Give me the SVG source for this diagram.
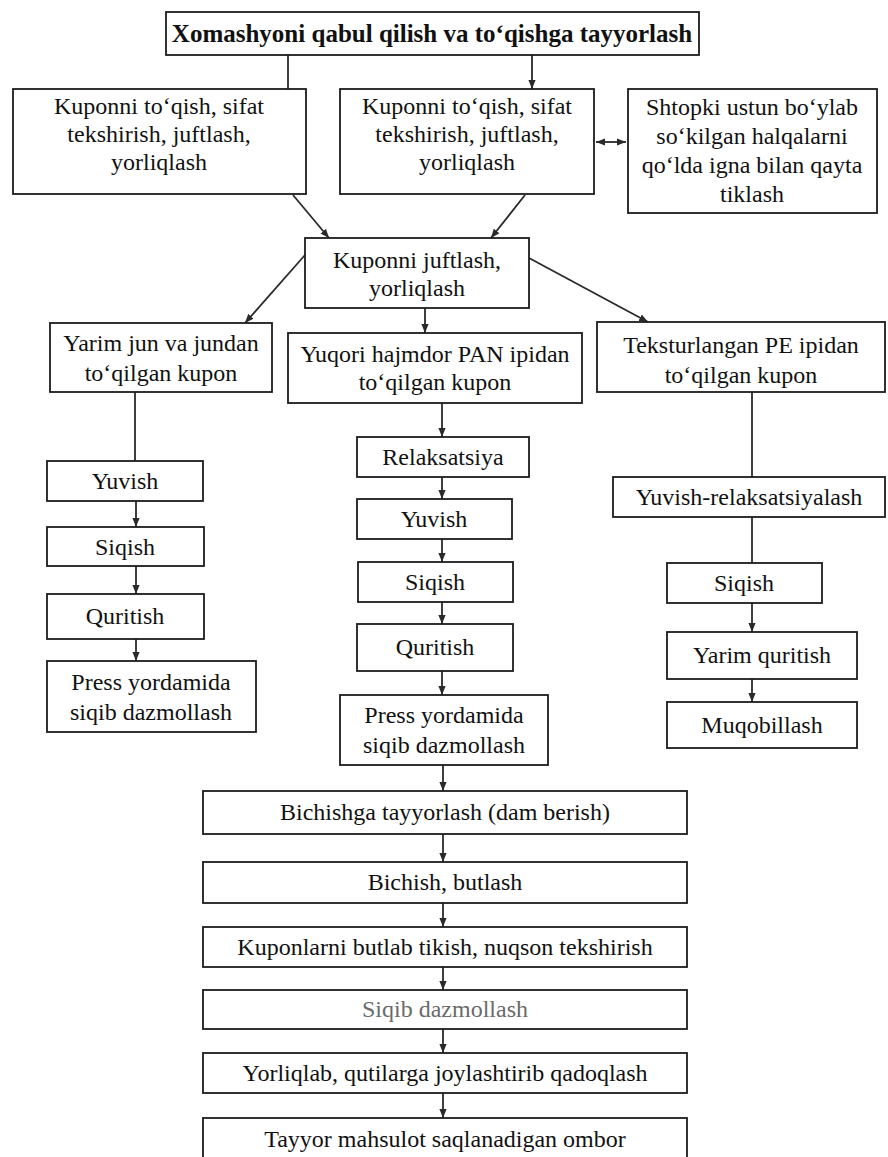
<svg xmlns="http://www.w3.org/2000/svg" width="888" height="1157" viewBox="0 0 888 1157">
  <defs>
    <style>
      .box { fill: #ffffff; stroke: #1c1c1c; stroke-width: 1.8; }
      .t { font-family: "Liberation Serif", "Times New Roman", serif; font-size: 24px; fill: #111111; text-anchor: middle; }
      .tb { font-family: "Liberation Serif", "Times New Roman", serif; font-size: 25px; font-weight: bold; fill: #111111; text-anchor: middle; }
      .grey { fill: #6a6a6a; }
      .ln { stroke: #2a2a2a; stroke-width: 1.8; fill: none; }
      .ar { stroke: #2a2a2a; stroke-width: 1.8; fill: none; marker-end: url(#head); }
      .ar2 { stroke: #2a2a2a; stroke-width: 1.8; fill: none; marker-end: url(#head); marker-start: url(#tail); }
    </style>
    <marker id="head" viewBox="0 0 10 8" refX="10" refY="4" markerWidth="9" markerHeight="8" markerUnits="userSpaceOnUse" orient="auto">
      <path d="M0,0 L10,4 L0,8 z" fill="#2a2a2a"/>
    </marker>
    <marker id="tail" viewBox="0 0 10 8" refX="0" refY="4" markerWidth="9" markerHeight="8" markerUnits="userSpaceOnUse" orient="auto">
      <path d="M10,0 L0,4 L10,8 z" fill="#2a2a2a"/>
    </marker>
  </defs>

  <rect width="888" height="1157" fill="#ffffff"/>

  <!-- connectors -->
  <g id="connectors">
    <line class="ln" x1="288" y1="55" x2="288" y2="90"/>
    <line class="ar" x1="532" y1="55" x2="532" y2="89"/>
    <line class="ar2" x1="596" y1="142" x2="626" y2="142"/>
    <line class="ar" x1="293" y1="195" x2="329" y2="238"/>
    <line class="ar" x1="525" y1="195" x2="491" y2="238"/>
    <line class="ar" x1="305" y1="255" x2="245" y2="323"/>
    <line class="ar" x1="529" y1="258" x2="648" y2="322"/>
    <line class="ar" x1="425" y1="308" x2="425" y2="333"/>

    <!-- left column -->
    <line class="ln" x1="135" y1="392" x2="135" y2="461"/>
    <line class="ar" x1="136" y1="501" x2="136" y2="527"/>
    <line class="ar" x1="136" y1="566" x2="136" y2="594"/>
    <line class="ar" x1="136" y1="639" x2="136" y2="661"/>

    <!-- middle column -->
    <line class="ar" x1="442" y1="403" x2="442" y2="437"/>
    <line class="ar" x1="442" y1="477" x2="442" y2="499"/>
    <line class="ar" x1="442" y1="539" x2="442" y2="562"/>
    <line class="ar" x1="442" y1="602" x2="442" y2="624"/>
    <line class="ar" x1="442" y1="671" x2="442" y2="695"/>

    <!-- right column -->
    <line class="ln" x1="752" y1="392" x2="752" y2="477"/>
    <line class="ln" x1="752" y1="517" x2="752" y2="563"/>
    <line class="ar" x1="752" y1="603" x2="752" y2="632"/>
    <line class="ar" x1="752" y1="679" x2="752" y2="702"/>

    <!-- common trunk -->
    <line class="ar" x1="443" y1="765" x2="443" y2="791"/>
    <line class="ar" x1="443" y1="834" x2="443" y2="862"/>
    <line class="ar" x1="443" y1="903" x2="443" y2="927"/>
    <line class="ar" x1="443" y1="967" x2="443" y2="990"/>
    <line class="ar" x1="443" y1="1029" x2="443" y2="1053"/>
    <line class="ar" x1="443" y1="1093" x2="443" y2="1118"/>
  </g>

  <g id="n-receive">
    <rect class="box" x="166" y="12" width="533" height="43"/>
    <text class="tb" x="432" y="42">Xomashyoni qabul qilish va to‘qishga tayyorlash</text>
  </g>

  <g id="n-knit-1">
    <rect class="box" x="13" y="89" width="293" height="105"/>
    <text class="t" x="159" y="114">Kuponni to‘qish, sifat</text>
    <text class="t" x="159" y="142">tekshirish, juftlash,</text>
    <text class="t" x="159" y="170">yorliqlash</text>
  </g>

  <g id="n-knit-2">
    <rect class="box" x="340" y="89" width="254" height="105"/>
    <text class="t" x="467" y="114">Kuponni to‘qish, sifat</text>
    <text class="t" x="467" y="142">tekshirish, juftlash,</text>
    <text class="t" x="467" y="170">yorliqlash</text>
  </g>

  <g id="n-repair">
    <rect class="box" x="628" y="89" width="249" height="124"/>
    <text class="t" x="752" y="115">Shtopki ustun bo‘ylab</text>
    <text class="t" x="752" y="144">so‘kilgan halqalarni</text>
    <text class="t" x="752" y="173">qo‘lda igna bilan qayta</text>
    <text class="t" x="752" y="202">tiklash</text>
  </g>

  <g id="n-pair">
    <rect class="box" x="305" y="238" width="224" height="70"/>
    <text class="t" x="417" y="268">Kuponni juftlash,</text>
    <text class="t" x="417" y="296">yorliqlash</text>
  </g>

  <g id="n-wool">
    <rect class="box" x="50" y="323" width="222" height="69"/>
    <text class="t" x="161" y="351">Yarim jun va jundan</text>
    <text class="t" x="161" y="381">to‘qilgan kupon</text>
  </g>

  <g id="n-pan">
    <rect class="box" x="288" y="333" width="294" height="70"/>
    <text class="t" x="435" y="362">Yuqori hajmdor PAN ipidan</text>
    <text class="t" x="435" y="390">to‘qilgan kupon</text>
  </g>

  <g id="n-pe">
    <rect class="box" x="597" y="322" width="288" height="70"/>
    <text class="t" x="741" y="353">Teksturlangan PE ipidan</text>
    <text class="t" x="741" y="383">to‘qilgan kupon</text>
  </g>

  <!-- left column steps -->
  <g id="n-w-wash">
    <rect class="box" x="47" y="461" width="156" height="40"/>
    <text class="t" x="125" y="489">Yuvish</text>
  </g>
  <g id="n-w-squeeze">
    <rect class="box" x="47" y="527" width="157" height="39"/>
    <text class="t" x="125" y="555">Siqish</text>
  </g>
  <g id="n-w-dry">
    <rect class="box" x="47" y="594" width="157" height="45"/>
    <text class="t" x="125" y="624">Quritish</text>
  </g>
  <g id="n-w-press">
    <rect class="box" x="47" y="661" width="209" height="71"/>
    <text class="t" x="151" y="690">Press yordamida</text>
    <text class="t" x="151" y="720">siqib dazmollash</text>
  </g>

  <!-- middle column steps -->
  <g id="n-p-relax">
    <rect class="box" x="357" y="437" width="172" height="40"/>
    <text class="t" x="443" y="465">Relaksatsiya</text>
  </g>
  <g id="n-p-wash">
    <rect class="box" x="357" y="499" width="155" height="40"/>
    <text class="t" x="434" y="527">Yuvish</text>
  </g>
  <g id="n-p-squeeze">
    <rect class="box" x="358" y="562" width="155" height="40"/>
    <text class="t" x="435" y="590">Siqish</text>
  </g>
  <g id="n-p-dry">
    <rect class="box" x="357" y="624" width="156" height="47"/>
    <text class="t" x="435" y="655">Quritish</text>
  </g>
  <g id="n-p-press">
    <rect class="box" x="340" y="695" width="208" height="70"/>
    <text class="t" x="444" y="723">Press yordamida</text>
    <text class="t" x="444" y="753">siqib dazmollash</text>
  </g>

  <!-- right column steps -->
  <g id="n-e-washrelax">
    <rect class="box" x="613" y="477" width="272" height="40"/>
    <text class="t" x="749" y="505">Yuvish-relaksatsiyalash</text>
  </g>
  <g id="n-e-squeeze">
    <rect class="box" x="667" y="563" width="155" height="40"/>
    <text class="t" x="744" y="591">Siqish</text>
  </g>
  <g id="n-e-halfdry">
    <rect class="box" x="667" y="632" width="190" height="47"/>
    <text class="t" x="762" y="663">Yarim quritish</text>
  </g>
  <g id="n-e-balance">
    <rect class="box" x="667" y="702" width="190" height="46"/>
    <text class="t" x="762" y="733">Muqobillash</text>
  </g>

  <!-- common trunk -->
  <g id="n-rest">
    <rect class="box" x="203" y="791" width="484" height="43"/>
    <text class="t" x="445" y="820">Bichishga tayyorlash (dam berish)</text>
  </g>
  <g id="n-cut">
    <rect class="box" x="203" y="862" width="484" height="41"/>
    <text class="t" x="445" y="890">Bichish, butlash</text>
  </g>
  <g id="n-sew">
    <rect class="box" x="203" y="927" width="484" height="40"/>
    <text class="t" x="445" y="955">Kuponlarni butlab tikish, nuqson tekshirish</text>
  </g>
  <g id="n-iron">
    <rect class="box" x="203" y="990" width="484" height="39"/>
    <text class="t grey" x="445" y="1017">Siqib dazmollash</text>
  </g>
  <g id="n-pack">
    <rect class="box" x="203" y="1053" width="484" height="40"/>
    <text class="t" x="445" y="1081">Yorliqlab, qutilarga joylashtirib qadoqlash</text>
  </g>
  <g id="n-store">
    <rect class="box" x="203" y="1118" width="484" height="44"/>
    <text class="t" x="445" y="1147">Tayyor mahsulot saqlanadigan ombor</text>
  </g>
</svg>
